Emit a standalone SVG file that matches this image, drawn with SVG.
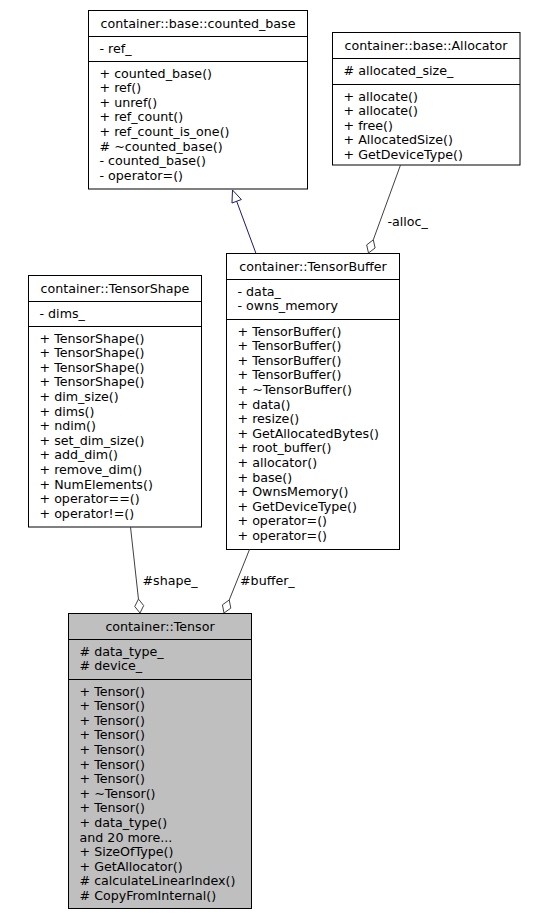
<svg xmlns="http://www.w3.org/2000/svg" width="536" height="916" viewBox="0 0 536 916">
<style>
text{font-family:"DejaVu Sans","Liberation Sans",sans-serif;font-size:12.67px;fill:#000}
.t{text-anchor:middle}
.box{fill:#fff;stroke:#000;stroke-width:1}
.cur{fill:#bfbfbf;stroke:#000;stroke-width:1}
.sep{stroke:#000;stroke-width:1}
.edge{stroke:#404040;stroke-width:1;fill:none}
.inh{stroke:#191970;stroke-width:1;fill:none}
.dia{fill:#fff;stroke:#404040;stroke-width:1}
.tri{fill:#fff;stroke:#191970;stroke-width:1}
</style>
<rect width="536" height="916" fill="#fff"/>
<g id="counted_base">
<rect class="box" x="88.5" y="10.5" width="219" height="178.5"/>
<line class="sep" x1="88.5" y1="36.5" x2="307.5" y2="36.5"/>
<line class="sep" x1="88.5" y1="61.5" x2="307.5" y2="61.5"/>
<text class="t" x="198" y="28">container::base::counted_base</text>
<text x="99.5" y="52.5">- ref_</text>
<text x="99.5" y="77.5">+ counted_base()</text>
<text x="99.5" y="92.1">+ ref()</text>
<text x="99.5" y="106.7">+ unref()</text>
<text x="99.5" y="121.3">+ ref_count()</text>
<text x="99.5" y="135.9">+ ref_count_is_one()</text>
<text x="99.5" y="150.5"># ~counted_base()</text>
<text x="99.5" y="165.1">- counted_base()</text>
<text x="99.5" y="179.7">- operator=()</text>
</g>
<g id="Allocator">
<rect class="box" x="332.5" y="32.5" width="187.5" height="132.5"/>
<line class="sep" x1="332.5" y1="58.5" x2="520" y2="58.5"/>
<line class="sep" x1="332.5" y1="84.5" x2="520" y2="84.5"/>
<text class="t" x="426" y="50">container::base::Allocator</text>
<text x="343.5" y="74.5"># allocated_size_</text>
<text x="343.5" y="100.5">+ allocate()</text>
<text x="343.5" y="115.1">+ allocate()</text>
<text x="343.5" y="129.7">+ free()</text>
<text x="343.5" y="144.3">+ AllocatedSize()</text>
<text x="343.5" y="158.9">+ GetDeviceType()</text>
</g>
<g id="TensorShape">
<rect class="box" x="28.5" y="275.5" width="173" height="251.5"/>
<line class="sep" x1="28.5" y1="301.5" x2="201.5" y2="301.5"/>
<line class="sep" x1="28.5" y1="326.5" x2="201.5" y2="326.5"/>
<text class="t" x="115" y="293">container::TensorShape</text>
<text x="39.5" y="317.5">- dims_</text>
<text x="39.5" y="342.5">+ TensorShape()</text>
<text x="39.5" y="357.1">+ TensorShape()</text>
<text x="39.5" y="371.7">+ TensorShape()</text>
<text x="39.5" y="386.3">+ TensorShape()</text>
<text x="39.5" y="400.9">+ dim_size()</text>
<text x="39.5" y="415.5">+ dims()</text>
<text x="39.5" y="430.1">+ ndim()</text>
<text x="39.5" y="444.7">+ set_dim_size()</text>
<text x="39.5" y="459.3">+ add_dim()</text>
<text x="39.5" y="473.9">+ remove_dim()</text>
<text x="39.5" y="488.5">+ NumElements()</text>
<text x="39.5" y="503.1">+ operator==()</text>
<text x="39.5" y="517.7">+ operator!=()</text>
</g>
<g id="TensorBuffer">
<rect class="box" x="226.5" y="253.5" width="173" height="296"/>
<line class="sep" x1="226.5" y1="279.5" x2="399.5" y2="279.5"/>
<line class="sep" x1="226.5" y1="319.5" x2="399.5" y2="319.5"/>
<text class="t" x="313" y="271">container::TensorBuffer</text>
<text x="237.5" y="295.5">- data_</text>
<text x="237.5" y="310.1">- owns_memory</text>
<text x="237.5" y="335.5">+ TensorBuffer()</text>
<text x="237.5" y="350.1">+ TensorBuffer()</text>
<text x="237.5" y="364.7">+ TensorBuffer()</text>
<text x="237.5" y="379.3">+ TensorBuffer()</text>
<text x="237.5" y="393.9">+ ~TensorBuffer()</text>
<text x="237.5" y="408.5">+ data()</text>
<text x="237.5" y="423.1">+ resize()</text>
<text x="237.5" y="437.7">+ GetAllocatedBytes()</text>
<text x="237.5" y="452.3">+ root_buffer()</text>
<text x="237.5" y="466.9">+ allocator()</text>
<text x="237.5" y="481.5">+ base()</text>
<text x="237.5" y="496.1">+ OwnsMemory()</text>
<text x="237.5" y="510.7">+ GetDeviceType()</text>
<text x="237.5" y="525.3">+ operator=()</text>
<text x="237.5" y="539.9">+ operator=()</text>
</g>
<g id="Tensor">
<rect class="cur" x="68.5" y="613.5" width="183" height="295"/>
<line class="sep" x1="68.5" y1="639.5" x2="251.5" y2="639.5"/>
<line class="sep" x1="68.5" y1="679.5" x2="251.5" y2="679.5"/>
<text class="t" x="160" y="631">container::Tensor</text>
<text x="79.5" y="655.5"># data_type_</text>
<text x="79.5" y="670.1"># device_</text>
<text x="79.5" y="695.5">+ Tensor()</text>
<text x="79.5" y="710.1">+ Tensor()</text>
<text x="79.5" y="724.7">+ Tensor()</text>
<text x="79.5" y="739.3">+ Tensor()</text>
<text x="79.5" y="753.9">+ Tensor()</text>
<text x="79.5" y="768.5">+ Tensor()</text>
<text x="79.5" y="783.1">+ Tensor()</text>
<text x="79.5" y="797.7">+ ~Tensor()</text>
<text x="79.5" y="812.3">+ Tensor()</text>
<text x="79.5" y="826.9">+ data_type()</text>
<text x="79.5" y="841.5">and 20 more...</text>
<text x="79.5" y="856.1">+ SizeOfType()</text>
<text x="79.5" y="870.7">+ GetAllocator()</text>
<text x="79.5" y="885.3"># calculateLinearIndex()</text>
<text x="79.5" y="899.9"># CopyFromInternal()</text>
</g>
<g id="connectors">
<line class="inh" x1="256" y1="253.5" x2="236.66" y2="201.26"/>
<polygon class="tri" points="232.5,190 241.35,199.52 231.97,203"/>
<line class="edge" x1="400.5" y1="165" x2="373.29" y2="239.84"/>
<polygon class="dia" points="368.5,253 375.12,247.96 373.29,239.84 366.66,244.88"/>
<text x="387.5" y="226">-alloc_</text>
<line class="edge" x1="130.5" y1="527" x2="138.46" y2="599.08"/>
<polygon class="dia" points="140,613 143.7,605.55 138.46,599.08 134.76,606.54"/>
<text x="142.5" y="585">#shape_</text>
<line class="edge" x1="249.5" y1="549.5" x2="229.22" y2="600"/>
<polygon class="dia" points="224,613 230.79,608.18 229.22,600 222.43,604.82"/>
<text x="240" y="585">#buffer_</text>
</g>
</svg>
